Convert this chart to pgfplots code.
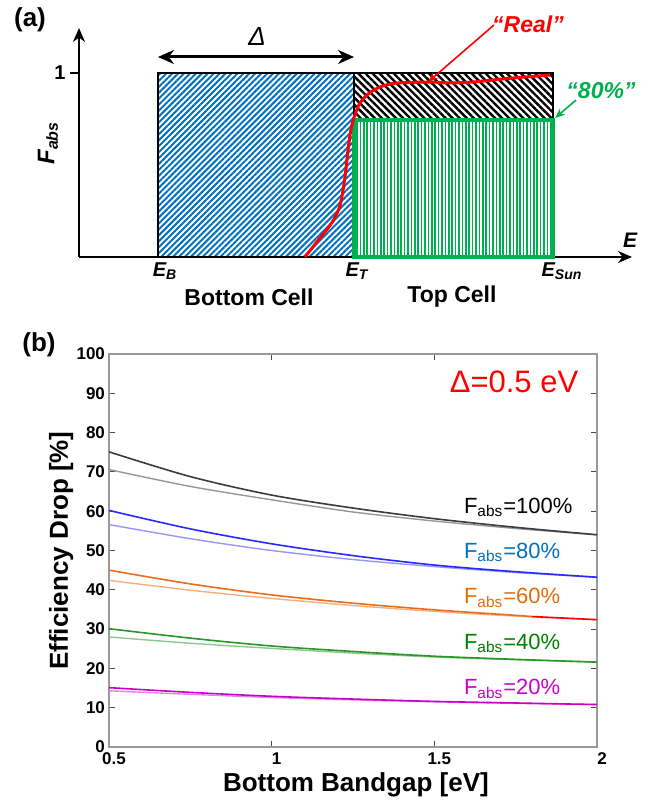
\documentclass[border=0pt]{standalone}
\usepackage{fontspec}
\setmainfont{Liberation Sans}
\usepackage{pgfplots}
\pgfplotsset{compat=1.18}
\usetikzlibrary{arrows.meta,patterns.meta}

\definecolor{hatchblue}{RGB}{0,112,192}
\definecolor{topgreen}{RGB}{0,176,80}
\definecolor{cblack}{RGB}{60,60,60}
\definecolor{cblackl}{RGB}{150,150,150}
\definecolor{cblue}{RGB}{40,40,255}
\definecolor{cbluel}{RGB}{150,150,255}
\definecolor{corange}{RGB}{230,110,30}
\definecolor{corangel}{RGB}{245,175,125}
\definecolor{cgreen}{RGB}{40,150,40}
\definecolor{cgreenl}{RGB}{140,200,140}
\definecolor{cmag}{RGB}{200,0,200}
\definecolor{cmagl}{RGB}{230,130,230}
\definecolor{lblue}{RGB}{0,112,192}
\definecolor{lorange}{RGB}{228,108,10}
\definecolor{lgreen}{RGB}{0,128,0}
\definecolor{lmag}{RGB}{204,0,204}

\begin{document}
\begin{tikzpicture}
\useasboundingbox (0,0) rectangle (330pt,402pt);

% ---------- panel (a): schematic ----------
\begin{axis}[
  at={(39.5pt,273.5pt)}, anchor=south west,
  scale only axis, width=276.5pt, height=114.5pt,
  xmin=79, xmax=632, ymin=0, ymax=1.2446,
  axis lines*=left,
  axis line style={line width=1.2pt, -{Stealth[length=7pt,width=6pt]}},
  xtick=\empty, ytick=\empty,
  clip=false,
]
  \addplot[draw=black, line width=1.2pt, pattern={Lines[angle=45,distance=2.1pt,line width=1pt]}, pattern color=hatchblue]
    coordinates {(158,0) (354,0) (354,1) (158,1)} -- cycle;
  \addplot[draw=black, line width=1.2pt, pattern={Lines[angle=-45,distance=2.5pt,line width=1.2pt]}, pattern color=black]
    coordinates {(354,0.745) (553,0.745) (553,1) (354,1)} -- cycle;
  \addplot[draw=topgreen, line width=1.6pt, pattern={Lines[angle=90,distance=1.7pt,line width=0.75pt]}, pattern color=topgreen]
    coordinates {(354,0) (553,0) (553,0.745) (354,0.745)} -- cycle;
  % "real" absorption curve
  \addplot[red, line width=1.5pt, smooth, tension=0.5] coordinates {
    (305,0) (318,0.09) (331.7,0.185) (340,0.28) (345,0.435) (348,0.58)
    (352,0.72) (360,0.837) (373,0.905) (393,0.943) (430,0.951) (447,0.946)
    (473,0.951) (507,0.97) (550,0.989)
  };
  \draw[line width=1pt] (axis cs:70,1) -- (axis cs:79,1);
  \draw[{Stealth[length=8pt,width=7pt]}-{Stealth[length=8pt,width=7pt]}, line width=1.5pt]
    (axis cs:158,1.087) -- (axis cs:354,1.087);
  \draw[red, line width=0.8pt, -{Stealth[length=5pt,width=4pt]}] (axis cs:494,1.261) -- (axis cs:428,0.951);
  \draw[topgreen, line width=0.8pt, -{Stealth[length=5pt,width=4pt]}] (axis cs:576,0.853) -- (axis cs:555,0.755);
\end{axis}

% ---------- panel (b): efficiency drop ----------
\begin{axis}[
  at={(54.5pt,28.5pt)}, anchor=south west,
  scale only axis, width=244pt, height=196.5pt,
  xmin=0.5, xmax=2, ymin=0, ymax=100,
  xtick={0.5,1,1.5,2}, ytick={0,10,...,100},
  tick align=inside, major tick length=3pt,
  axis line style={gray!80, line width=0.8pt},
  tick style={black!70, line width=0.6pt},
  ticklabel style={font=\bfseries\fontsize{8.5}{10}\selectfont},
  xticklabel style={xshift=2.5pt, yshift=0.5pt},
  yticklabel style={xshift=1.5pt},
  /pgf/number format/assume math mode=true,
  every axis y label/.style={at={(axis description cs:-0.098,0.5)}, rotate=90, anchor=center, font=\bfseries\fontsize{13}{15}\selectfont},
  every axis x label/.style={at={(axis description cs:0.506,-0.097)}, anchor=center, font=\bfseries\fontsize{13}{15}\selectfont},
  ylabel={Efficiency Drop [\%]},
  xlabel={Bottom Bandgap [eV]},
]
  % F_abs = 100%
  \addplot[cblackl, line width=0.7pt, smooth] coordinates {(0.5,70.6) (0.75,66.3) (1.0,62.9) (1.25,59.8) (1.5,57.5) (1.75,55.6) (2.0,54.0)};
  \addplot[cblack, line width=0.8pt, smooth] coordinates {(0.5,75.1) (0.75,68.8) (1.0,64.1) (1.25,60.8) (1.5,58.1) (1.75,55.9) (2.0,54.0)};
  % F_abs = 80%
  \addplot[cbluel, line width=0.7pt, smooth] coordinates {(0.5,56.6) (0.75,53.0) (1.0,50.0) (1.25,47.7) (1.5,45.9) (1.75,44.4) (2.0,43.2)};
  \addplot[cblue, line width=0.8pt, smooth] coordinates {(0.5,60.2) (0.75,55.5) (1.0,51.7) (1.25,48.7) (1.5,46.3) (1.75,44.6) (2.0,43.2)};
  % F_abs = 60%
  \addplot[corangel, line width=0.7pt, smooth] coordinates {(0.5,42.4) (0.75,39.9) (1.0,37.8) (1.25,36.0) (1.5,34.5) (1.75,33.3) (2.0,32.4)};
  \addplot[corange, line width=0.8pt, smooth] coordinates {(0.5,45.0) (0.75,41.5) (1.0,38.7) (1.25,36.6) (1.5,34.9) (1.75,33.5) (1.8,33.2)};
  \addplot[red, line width=0.8pt] coordinates {(1.8,33.2) (1.9,32.8) (2.0,32.4)};
  % F_abs = 40%
  \addplot[cgreenl, line width=0.7pt, smooth] coordinates {(0.5,28.0) (0.75,26.4) (1.0,25.1) (1.25,23.9) (1.5,22.9) (1.75,22.2) (2.0,21.6)};
  \addplot[cgreen, line width=0.8pt, smooth] coordinates {(0.5,30.1) (0.75,27.7) (1.0,25.7) (1.25,24.3) (1.5,23.1) (1.75,22.3) (2.0,21.6)};
  % F_abs = 20%
  \addplot[cmagl, line width=0.7pt, smooth] coordinates {(0.5,14.3) (0.75,13.4) (1.0,12.6) (1.25,12.0) (1.5,11.5) (1.75,11.1) (2.0,10.8)};
  \addplot[cmag, line width=0.8pt, smooth] coordinates {(0.5,15.1) (0.75,13.9) (1.0,12.9) (1.25,12.2) (1.5,11.6) (1.75,11.2) (2.0,10.8)};

  \node[red, font=\fontsize{15.5}{18}\selectfont] at (axis cs:1.745,92.9) {Δ=0.5 eV};
  \begin{scope}[every node/.style={anchor=base west, font=\fontsize{11}{13}\selectfont, inner sep=0pt}]
    \node[black] at (axis cs:1.59,59.5) {F\textsubscript{abs}=100\%};
    \node[lblue] at (axis cs:1.59,48.0) {F\textsubscript{abs}=80\%};
    \node[lorange] at (axis cs:1.59,36.4) {F\textsubscript{abs}=60\%};
    \node[lgreen] at (axis cs:1.59,24.9) {F\textsubscript{abs}=40\%};
    \node[lmag] at (axis cs:1.59,13.3) {F\textsubscript{abs}=20\%};
  \end{scope}
\end{axis}

% ---------- free text, in pixel units of the reference ----------
\begin{scope}[x=0.5pt, y=-0.5pt, shift={(0pt,402pt)}]
  \node[font=\bfseries\fontsize{13}{15}\selectfont] at (30,20) {(a)};
  \node[font=\bfseries\fontsize{13}{15}\selectfont] at (39,345) {(b)};
  \node[font=\itshape\fontsize{13}{15}\selectfont] at (257,37) {Δ};
  \node[red, font=\bfseries\itshape\fontsize{11.5}{13}\selectfont] at (528,24) {“Real”};
  \node[topgreen, font=\bfseries\itshape\fontsize{11.5}{13}\selectfont] at (601,91) {“80\%”};
  \node[rotate=90, font=\bfseries\itshape\fontsize{12}{14}\selectfont] at (48,143) {F\textsubscript{abs}};
  \node[font=\bfseries\fontsize{10}{12}\selectfont] at (60,73) {1};
  \node[font=\bfseries\itshape\fontsize{10.5}{12}\selectfont] at (630,240) {E};
  \node[font=\bfseries\itshape\fontsize{10}{12}\selectfont] at (165,271) {E\textsubscript{B}};
  \node[font=\bfseries\itshape\fontsize{10}{12}\selectfont] at (357,271) {E\textsubscript{T}};
  \node[font=\bfseries\itshape\fontsize{10}{12}\selectfont] at (562,271) {E\textsubscript{Sun}};
  \node[font=\bfseries\fontsize{11.5}{13}\selectfont] at (249,297) {Bottom Cell};
  \node[font=\bfseries\fontsize{11.5}{13}\selectfont] at (452,297) {Top Cell};
\end{scope}
\end{tikzpicture}
\end{document}
